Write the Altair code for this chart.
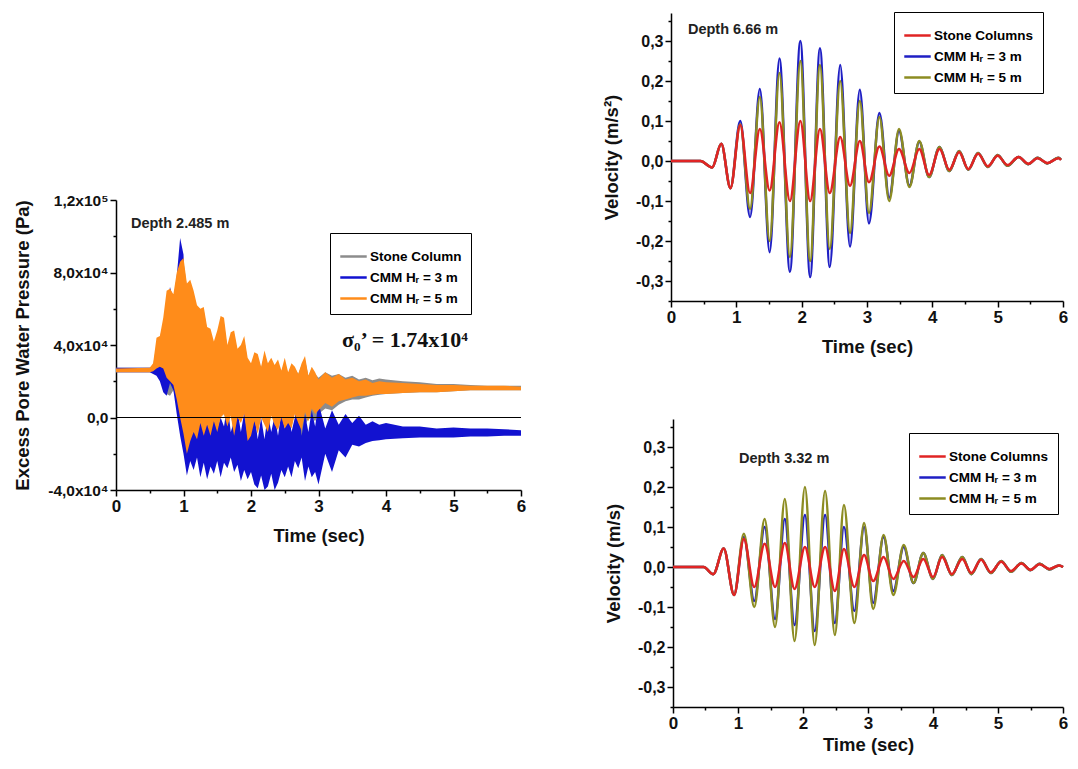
import altair as alt
import pandas as pd

FONT = "Liberation Sans"

# ---------------- Left panel: excess pore water pressure (values in units of 1000 Pa)
TP = [0, 0.5, 0.55, 0.6, 0.65, 0.7, 0.75, 0.8, 0.85, 0.9, 0.95, 1.0, 1.05, 1.1, 1.15, 1.2, 1.25,
      1.3, 1.35, 1.4, 1.45, 1.5, 1.55, 1.6, 1.65, 1.7, 1.75, 1.8, 1.85, 1.9, 1.95, 2.0, 2.05, 2.1,
      2.15, 2.2, 2.25, 2.3, 2.35, 2.4, 2.45, 2.5, 2.55, 2.6, 2.65, 2.7, 2.75, 2.8, 2.85, 2.9, 2.95,
      3.0, 3.1, 3.2, 3.3, 3.4, 3.5, 3.6, 3.7, 3.8, 3.9, 4.0, 4.25, 4.5, 4.75, 5.0, 5.25, 5.5, 5.75, 6.0]

SC_UP = [27.5, 27.5, 29, 40, 44, 52, 66, 70, 66, 76, 84, 86, 72, 74, 68, 60, 58, 59, 48, 47, 40, 46,
         53, 52, 38, 45, 46, 36, 38, 43, 31, 29, 34, 33, 27, 35, 29, 31, 28, 30, 25, 31, 24, 29, 27,
         24, 29, 32, 23, 27, 24, 22, 25, 23, 24, 22, 23, 21, 22, 20.5, 21.5, 21, 20, 19.5, 18.5,
         18.5, 18, 17.5, 17.5, 17.5]
SC_LO = [25, 25, 25, 26, 24, 18, 13, 12, 15, 8, -2, -8, -18, -12, -7, -11, -2, -9, -3, -9, -1, -7,
         1, 2, -4, 2, -9, 1, -2, 3, -12, -9, -1, -8, 1, -3, -7, 2, -3, -6, 1, -5, -2, -5, 3, -11,
         -12, -4, -1, 0, -2, 2, 5, 4, 7, 9, 10, 10, 11, 12, 12.5, 13, 13.5, 14, 14, 14.5, 15, 15,
         15, 15]

H3_UP = [27.5, 27.5, 28, 35, 40, 50, 60, 72, 65, 78, 99, 90, 40, 5, -5, 2, 8, -8, -3, 4, 9, -6, 0,
         -5, 8, -8, -2, 4, -8, 3, -10, -5, 2, -12, 0, -12, 2, -8, 1, -10, 3, -6, 5, -8, 0, 6, -10,
         2, -8, 4, -5, 8, -6, 4, -4, 2, -3, 1, -4, -2, -4, -3, -5, -5, -6, -5.5, -6, -6, -6.5, -7]
H3_LO = [25, 25, 24, 23, 20, 14, 12, 19, 15, 2, -10, -20, -32, -24, -29, -22, -33, -25, -34, -27,
         -31, -24, -33, -25, -28, -22, -30, -26, -35, -29, -34, -30, -37, -39, -32, -40, -38, -31,
         -40, -36, -29, -33, -27, -33, -24, -28, -22, -35, -27, -33, -30, -37, -20, -30, -18, -22,
         -15, -16, -14, -13, -12.5, -12, -11.5, -11, -11, -11, -10.5, -10.5, -10, -10]

H5_UP = [27, 27.5, 30, 44, 45, 55, 70, 71, 68, 80, 86, 88, 74, 76, 70, 62, 60, 61, 50, 49, 42, 48,
         56, 55, 40, 47, 48, 38, 40, 45, 33, 30, 36, 35, 28, 37, 30, 33, 29, 32, 26, 33, 25, 30, 28,
         24, 30, 34, 23, 28, 25, 21, 25, 22, 24, 21, 22, 20, 21, 19, 20, 19.5, 19, 18.5, 18, 18,
         17.5, 17.5, 17.5, 17]
H5_LO = [25, 25, 25.5, 27, 28, 27, 22, 20, 18, 10, 0, -9, -20, -13, -8, -12, -3, -10, -4, -10, -2,
         -8, 0, 2, -5, 1, -10, 0, -3, 2, -13, -10, -2, -9, 0, -4, -8, 1, -4, -7, 0, -6, -3, -6, 2,
         -3, -7, 3, -2, 5, 2, 4, 8, 6, 9, 10, 11, 12, 12, 12.5, 13, 13, 13.5, 14, 14, 14.5, 15, 15,
         15, 15]

LEFT_NAMES = ["Stone Column", "CMM H\u1d63 = 3 m", "CMM H\u1d63 = 5 m"]
LEFT_COLORS = ["#8c8c8c", "#1212d0", "#ff8c1a"]

X_TICKS = [0, 0.5, 1, 1.5, 2, 2.5, 3, 3.5, 4, 4.5, 5, 5.5, 6]
LEFT_Y_TICKS = [-40000, -20000, 0, 20000, 40000, 60000, 80000, 100000, 120000]
LEFT_Y_LABELS = {120000: "1,2x10\u2075", 80000: "8,0x10\u2074", 40000: "4,0x10\u2074",
                 0: "0,0", -40000: "-4,0x10\u2074"}

# ---------------- Right panels: velocity (extrema)
T_TOP = [0, 0.45, 0.63, 0.77, 0.91, 1.06, 1.21, 1.36, 1.51, 1.66, 1.82, 1.98, 2.13, 2.28, 2.43,
         2.59, 2.74, 2.89, 3.03, 3.19, 3.34, 3.49, 3.65, 3.80, 3.95, 4.11, 4.26, 4.41, 4.55, 4.70,
         4.85, 5.00, 5.15, 5.32, 5.47, 5.61, 5.76, 5.93, 5.97]
TOP_H3 = [0, 0, -0.016, 0.043, -0.068, 0.10, -0.14, 0.18, -0.228, 0.256, -0.277, 0.30, -0.29,
          0.282, -0.265, 0.24, -0.214, 0.178, -0.156, 0.12, -0.092, 0.075, -0.062, 0.048, -0.04,
          0.035, -0.025, 0.025, -0.022, 0.02, -0.015, 0.015, -0.012, 0.01, -0.008, 0.008, -0.006,
          0.008, 0.003]
TOP_H5 = [0, 0, -0.016, 0.043, -0.068, 0.092, -0.12, 0.16, -0.2, 0.22, -0.24, 0.25, -0.25, 0.24,
          -0.22, 0.2, -0.18, 0.15, -0.13, 0.11, -0.1, 0.08, -0.065, 0.05, -0.04, 0.035, -0.025,
          0.025, -0.022, 0.02, -0.015, 0.015, -0.012, 0.01, -0.008, 0.008, -0.006, 0.008, 0.003]
TOP_SC = [0, 0, -0.016, 0.043, -0.068, 0.09, -0.08, 0.08, -0.074, 0.097, -0.1, 0.1, -0.1, 0.08,
          -0.08, 0.06, -0.062, 0.05, -0.053, 0.036, -0.037, 0.03, -0.03, 0.03, -0.035, 0.03,
          -0.022, 0.022, -0.02, 0.018, -0.013, 0.013, -0.01, 0.01, -0.007, 0.007, -0.005, 0.007,
          0.003]

T_BOT = [0, 0.47, 0.62, 0.78, 0.94, 1.09, 1.25, 1.41, 1.57, 1.72, 1.87, 2.03, 2.18, 2.34, 2.49,
         2.63, 2.79, 2.94, 3.08, 3.24, 3.39, 3.55, 3.70, 3.85, 4.00, 4.14, 4.29, 4.45, 4.59, 4.74,
         4.89, 5.05, 5.20, 5.36, 5.50, 5.64, 5.79, 5.94, 6.0]
BOT_H5 = [0, 0, -0.018, 0.046, -0.07, 0.083, -0.1, 0.12, -0.15, 0.17, -0.185, 0.2, -0.195, 0.19,
          -0.17, 0.155, -0.14, 0.11, -0.105, 0.08, -0.07, 0.055, -0.04, 0.035, -0.03, 0.03, -0.02,
          0.025, -0.018, 0.02, -0.015, 0.015, -0.012, 0.01, -0.008, 0.008, -0.006, 0.004, 0.0]
BOT_H3 = [0, 0, -0.018, 0.046, -0.07, 0.075, -0.085, 0.1, -0.13, 0.12, -0.145, 0.13, -0.16, 0.13,
          -0.14, 0.1, -0.11, 0.1, -0.09, 0.075, -0.06, 0.05, -0.04, 0.035, -0.03, 0.03, -0.02,
          0.025, -0.018, 0.02, -0.015, 0.015, -0.012, 0.01, -0.008, 0.008, -0.006, 0.004, 0.0]
BOT_SC = [0, 0, -0.018, 0.046, -0.07, 0.07, -0.05, 0.058, -0.05, 0.06, -0.055, 0.05, -0.05, 0.05,
          -0.06, 0.045, -0.05, 0.03, -0.035, 0.025, -0.03, 0.015, -0.025, 0.02, -0.025, 0.025,
          -0.018, 0.02, -0.015, 0.018, -0.013, 0.013, -0.01, 0.009, -0.007, 0.007, -0.005, 0.004,
          0.0]

RIGHT_NAMES = ["Stone Columns", "CMM H\u1d63 = 3 m", "CMM H\u1d63 = 5 m"]
RIGHT_COLORS = ["#e02424", "#1f1fc4", "#8c8c22"]
V_TICKS = [-0.35, -0.3, -0.25, -0.2, -0.15, -0.1, -0.05, 0, 0.05, 0.1, 0.15, 0.2, 0.25, 0.3, 0.35]

# ---------------- layout (pixels inside the drawing area)
W, H = 1062, 753
LEFT_BOX = dict(x0=108, x1=513, y0=482, y1=192)
TOP_BOX = dict(x0=663, x1=1055, y0=293, y1=5)
BOT_BOX = dict(x0=665, x1=1055, y0=699, y1=411)

TITLE_SIZE = 18.5


def x_axis(box, title_pad=12):
    return alt.Axis(title="Time (sec)", orient="bottom", offset=box["y0"] - H, values=X_TICKS,
                    labelExpr="datum.value % 1 === 0 ? format(datum.value, 'd') : ''",
                    tickSize={"condition": {"test": "datum.value % 1 !== 0", "value": 3},
                              "value": 6},
                    labelOverlap=False, labelFlush=False, labelFontSize=17,
                    titlePadding=title_pad)


def legend(x, y, names):
    return alt.Legend(title=None, orient="none", legendX=x, legendY=y, direction="vertical",
                      strokeColor="black", fillColor="white", padding=9,
                      symbolType="stroke", symbolSize=700, symbolStrokeWidth=2.5,
                      labelFont=FONT, labelFontWeight="bold", labelFontSize=13.5,
                      rowPadding=0, labelOffset=2, values=names)


# ---------------- Left chart
lx = alt.X("t:Q", scale=alt.Scale(domain=[0, 6], nice=False,
                                  range=[LEFT_BOX["x0"], LEFT_BOX["x1"]]), axis=x_axis(LEFT_BOX))
ly_expr = " : ".join(f"datum.value == {k} ? '{v}'" for k, v in LEFT_Y_LABELS.items()) + " : ''"
ly_axis = alt.Axis(title="Excess Pore Water Pressure (Pa)", orient="left", offset=-LEFT_BOX["x0"],
                   values=LEFT_Y_TICKS, labelExpr=ly_expr, labelOverlap=False, labelFlush=False,
                   labelFontSize=15.5,
                   tickSize={"condition": {"test": "datum.value % 40000 !== 0", "value": 3},
                             "value": 6},
                   titlePadding=15)
ly_scale = alt.Scale(domain=[-40000, 120000], nice=False, range=[LEFT_BOX["y0"], LEFT_BOX["y1"]])
LY = dict(scale=ly_scale, axis=ly_axis)


def band(up, lo, color):
    df = pd.DataFrame({"t": TP, "hi": [v * 1000 for v in up], "lo": [v * 1000 for v in lo]})
    return alt.Chart(df).mark_area(color=color, strokeWidth=0, opacity=1).encode(
        x=lx, y=alt.Y("hi:Q", **LY), y2="lo:Q")


leg_df = pd.DataFrame({"t": [0, 0, 0], "p": [26000, 26000, 26000], "series": LEFT_NAMES})
left_legend = alt.Chart(leg_df).mark_line(strokeWidth=2.5).encode(
    x=lx, y=alt.Y("p:Q", **LY),
    color=alt.Color("series:N", scale=alt.Scale(domain=LEFT_NAMES, range=LEFT_COLORS),
                    legend=legend(LEFT_BOX["x0"] + 214, LEFT_BOX["y1"] + 33, LEFT_NAMES)))

zero_rule = alt.Chart(pd.DataFrame({"t": [0], "t2": [6], "p": [0]})).mark_rule(
    color="black", strokeWidth=1).encode(x=lx, x2="t2:Q", y=alt.Y("p:Q", **LY))

left_text = alt.Chart(pd.DataFrame({"t": [0.95], "p": [107000], "txt": ["Depth 2.485 m"]})).mark_text(
    font=FONT, fontWeight="bold", fontSize=14.5, color="#222222").encode(
    x=lx, y=alt.Y("p:Q", **LY), text="txt:N")
sigma_text = alt.Chart(pd.DataFrame({"t": [4.28], "p": [43000],
                                     "txt": ["\u03c3\u2080\u2019 = 1.74x10\u2074"]})).mark_text(
    font="Liberation Serif", fontWeight="bold", fontSize=22, color="#111111").encode(
    x=lx, y=alt.Y("p:Q", **LY), text="txt:N")

left = alt.layer(
    left_legend,
    band(SC_UP, SC_LO, LEFT_COLORS[0]),
    band(H3_UP, H3_LO, LEFT_COLORS[1]),
    band(H5_UP, H5_LO, LEFT_COLORS[2]),
    zero_rule, left_text, sigma_text,
)


# ---------------- Right charts
def velocity_chart(box, T, sc, h3, h5, ytitle, depth_txt, depth_t, depth_v, lgx, lgy, tpad):
    vx = alt.X("t:Q", scale=alt.Scale(domain=[0, 6], nice=False, range=[box["x0"], box["x1"]]),
               axis=x_axis(box, tpad))
    vy_axis = alt.Axis(
        title=ytitle, orient="left", offset=-box["x0"], values=V_TICKS, labelOverlap=False,
        labelFlush=False, labelFontSize=16,
        labelExpr="abs(round(datum.value*100)) % 10 !== 0 ? '' : "
                  "(datum.value < -0.001 ? '-' : '') + replace(format(abs(datum.value), '.1f'), '.', ',')",
        tickSize={"condition": {"test": "abs(round(datum.value*100)) % 10 !== 0", "value": 3},
                  "value": 6},
        titlePadding=14)
    vy = alt.Y("v:Q", scale=alt.Scale(domain=[-0.35, 0.37], nice=False,
                                      range=[box["y0"], box["y1"]]), axis=vy_axis)
    cscale = alt.Scale(domain=RIGHT_NAMES, range=RIGHT_COLORS)
    layers = []
    for name, vals in [(RIGHT_NAMES[1], h3), (RIGHT_NAMES[2], h5), (RIGHT_NAMES[0], sc)]:
        df = pd.DataFrame({"t": T, "v": vals, "series": [name] * len(T)})
        layers.append(alt.Chart(df).mark_line(strokeWidth=2.5, interpolate="monotone").encode(
            x=vx, y=vy,
            color=alt.Color("series:N", scale=cscale,
                            legend=legend(box["x0"] + lgx, box["y1"] + lgy, RIGHT_NAMES))))
    txt = alt.Chart(pd.DataFrame({"t": [depth_t], "v": [depth_v], "txt": [depth_txt]})).mark_text(
        font=FONT, fontWeight="bold", fontSize=14.5, color="#222222").encode(x=vx, y=vy, text="txt:N")
    return alt.layer(*layers, txt)


top = velocity_chart(TOP_BOX, T_TOP, TOP_SC, TOP_H3, TOP_H5, "Velocity (m/s\u00b2)",
                     "Depth 6.66 m", 0.95, 0.327, 223, -1, 12)
bottom = velocity_chart(BOT_BOX, T_BOT, BOT_SC, BOT_H3, BOT_H5, "Velocity (m/s)",
                        "Depth 3.32 m", 1.71, 0.271, 236, 14, 4)

chart = alt.layer(left, top, bottom).resolve_scale(
    x="independent", y="independent", color="independent"
).resolve_axis(x="independent", y="independent").resolve_legend(color="independent").properties(
    width=W, height=H, autosize=alt.AutoSizeParams(type="none"), padding=0, background="white"
).configure_view(stroke=None).configure_axis(
    grid=False, domainColor="black", domainWidth=1.5, tickColor="black", tickWidth=1.5,
    labelFont=FONT, labelFontWeight="bold", labelColor="#111111",
    titleFont=FONT, titleFontWeight="bold", titleFontSize=TITLE_SIZE, titleColor="#111111")

chart.save("out.html", embed_options={"renderer": "svg", "actions": False})
